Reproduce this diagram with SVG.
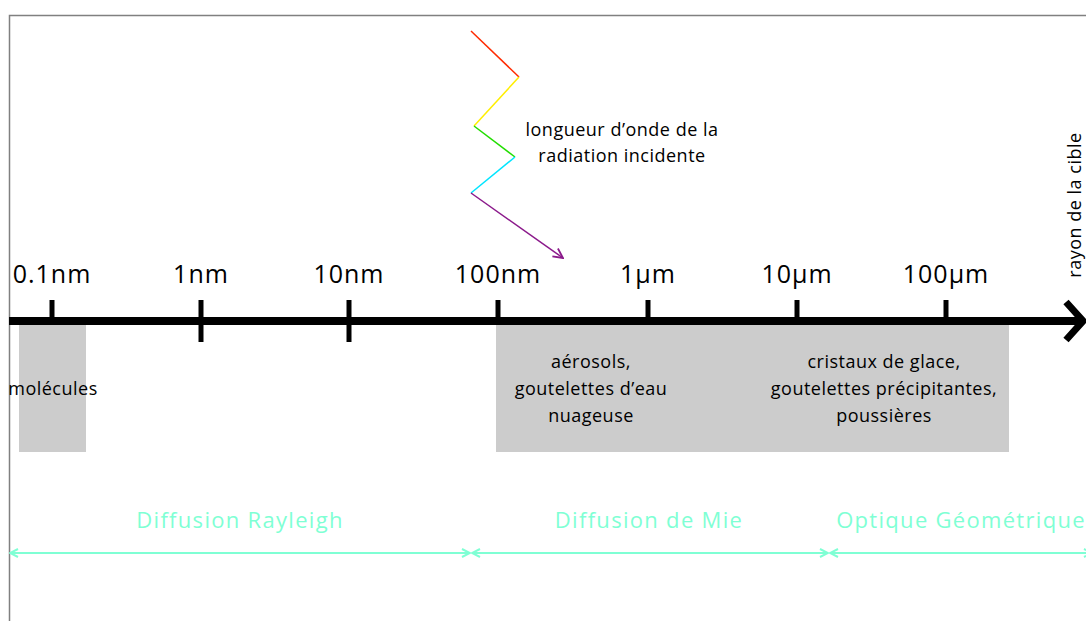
<svg xmlns="http://www.w3.org/2000/svg" width="1086" height="621" viewBox="0 0 1086 621">
<defs>
<style>
text{font-family:"Open Sans","Liberation Sans",sans-serif;fill:#000}
.lbl{font-size:25px;text-anchor:middle;letter-spacing:1px}
.sm{font-size:18px;text-anchor:middle;letter-spacing:0.5px}
.reg{font-size:22px;text-anchor:middle;fill:#7fffd4;letter-spacing:1.3px}
.tick{stroke:#000;stroke-width:5}
.rng{stroke:#7fffd4;stroke-width:2;fill:none;marker-start:url(#ca);marker-end:url(#ca)}
.box{fill:#cccccc}
</style>
<marker id="ca" viewBox="0 0 10 10" refX="9" refY="5" markerWidth="10" markerHeight="10" markerUnits="userSpaceOnUse" orient="auto-start-reverse">
<path d="M1,1 L9,5 L1,9" fill="none" stroke="#7fffd4" stroke-width="2"/>
</marker>
<marker id="pa" viewBox="0 0 10 10" refX="9" refY="5" markerWidth="12" markerHeight="12" markerUnits="userSpaceOnUse" orient="auto">
<path d="M1,1 L9,5 L1,9" fill="none" stroke="#8b1a8b" stroke-width="1.5"/>
</marker>
</defs>
<rect width="1086" height="621" fill="#fff"/>
<path d="M9.5,621 V15.5 H1086" fill="none" stroke="#808080" stroke-width="1.5"/>
<g id="molecules">
<rect class="box" x="19" y="325" width="67" height="127"/>
<text class="sm" x="53" y="395">molécules</text>
</g>
<g id="mie-box">
<rect class="box" x="496" y="325" width="513" height="127"/>
<text class="sm" x="591" y="368">aérosols,</text>
<text class="sm" x="591" y="395">goutelettes d’eau</text>
<text class="sm" x="591" y="422">nuageuse</text>
<text class="sm" x="884" y="368">cristaux de glace,</text>
<text class="sm" x="884" y="395">goutelettes précipitantes,</text>
<text class="sm" x="884" y="422">poussières</text>
</g>
<g id="axis">
<line x1="9" y1="321" x2="1082" y2="321" stroke="#000" stroke-width="8"/>
<path d="M1066,302 L1083,321 L1066,340" fill="none" stroke="#000" stroke-width="7"/>
<line class="tick" x1="52" y1="300" x2="52" y2="324"/>
<line class="tick" x1="201" y1="300" x2="201" y2="342"/>
<line class="tick" x1="349" y1="300" x2="349" y2="342"/>
<line class="tick" x1="498" y1="300" x2="498" y2="324"/>
<line class="tick" x1="648" y1="300" x2="648" y2="324"/>
<line class="tick" x1="797" y1="300" x2="797" y2="324"/>
<line class="tick" x1="946" y1="300" x2="946" y2="324"/>
<text class="lbl" x="52" y="283">0.1nm</text>
<text class="lbl" x="201" y="283">1nm</text>
<text class="lbl" x="349" y="283">10nm</text>
<text class="lbl" x="498" y="283">100nm</text>
<text class="lbl" x="648" y="283">1µm</text>
<text class="lbl" x="797" y="283">10µm</text>
<text class="lbl" x="946" y="283">100µm</text>
<text class="sm" transform="translate(1081,205) rotate(-90)">rayon de la cible</text>
</g>
<g id="wave" fill="none" stroke-width="1.5">
<line x1="471" y1="31" x2="519" y2="77" stroke="#ff2a00"/>
<line x1="519" y1="77" x2="474" y2="126" stroke="#ffee00"/>
<line x1="474" y1="126" x2="515" y2="157" stroke="#22dd00"/>
<line x1="515" y1="157" x2="471" y2="193" stroke="#00e5ff"/>
<line x1="471" y1="193" x2="563" y2="258" stroke="#8b1a8b" marker-end="url(#pa)"/>
<text class="sm" x="622" y="136">longueur d’onde de la</text>
<text class="sm" x="622" y="162">radiation incidente</text>
</g>
<g id="connectors">
<line class="rng" x1="10" y1="553" x2="470" y2="553"/>
<line class="rng" x1="472" y1="553" x2="828" y2="553"/>
<line class="rng" x1="830" y1="553" x2="1092" y2="553"/>
</g>
<g id="regimes">
<text class="reg" x="240" y="528">Diffusion Rayleigh</text>
<text class="reg" x="649" y="528">Diffusion de Mie</text>
<text class="reg" x="961" y="528">Optique Géométrique</text>
</g>
</svg>
